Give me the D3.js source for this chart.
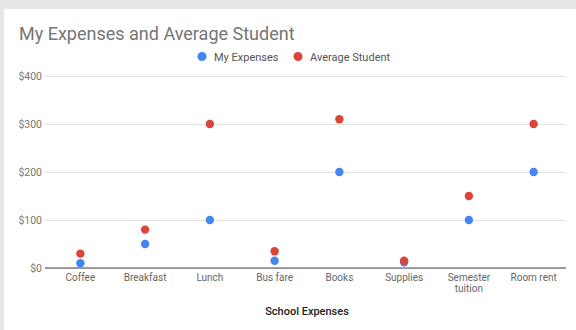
<!DOCTYPE html>
<html>
<head>
<meta charset="utf-8">
<script src="https://cdn.jsdelivr.net/npm/d3@7"></script>
<style>
  html, body { margin: 0; padding: 0; background: #e6e7e9; }
  svg { display: block; font-family: Roboto, "Noto Sans", Arial, sans-serif; }
</style>
</head>
<body>
<svg id="chart" width="576" height="330"></svg>
<script>
// School expense categories and the two series compared
const categories = ["Coffee", "Breakfast", "Lunch", "Bus fare", "Books", "Supplies", "Semester tuition", "Room rent"];
const myExpenses = [10, 50, 100, 15, 200, 12, 100, 200];
const averageStudent = [30, 80, 300, 35, 310, 15, 150, 300];
const yTicks = [0, 100, 200, 300, 400];
const seriesNames = ["My Expenses", "Average Student"];
const seriesColors = ["#4285f4", "#db4437"];

const svg = d3.select("#chart");
const W = 576, H = 330;

// card background
svg.append("rect").attr("x", 4).attr("y", 9).attr("width", W - 4).attr("height", H - 9).attr("fill", "#ffffff");

const x = d3.scaleBand().domain(categories).range([48, 566]);
const y = d3.scaleLinear().domain([0, 400]).range([268, 76]);

// title
svg.append("text").attr("x", 19).attr("y", 40)
  .attr("font-size", 18).attr("fill", "#757575").text("My Expenses and Average Student");

// legend
const legend = svg.append("g");
const legendItems = [{ cx: 202, tx: 214 }, { cx: 298, tx: 310 }];
seriesNames.forEach((name, i) => {
  legend.append("circle").attr("cx", legendItems[i].cx).attr("cy", 56.5).attr("r", 4.5).attr("fill", seriesColors[i]);
  legend.append("text").attr("x", legendItems[i].tx).attr("y", 60.5)
    .attr("font-size", 11).attr("fill", "#555").text(name);
});

// gridlines and y labels
const yAxis = d3.axisLeft(y).tickValues(yTicks).tickSize(-(566 - 45)).tickFormat(d => "$" + d);
const gy = svg.append("g").attr("transform", "translate(45,0)").call(yAxis);
gy.select(".domain").remove();
gy.selectAll(".tick line").attr("stroke", "#e0e0e0").attr("stroke-width", 1);
gy.selectAll(".tick text").attr("x", -3).attr("font-size", 10.5).attr("fill", "#757575")
  .attr("font-family", "Roboto, sans-serif");

// baseline
svg.append("line").attr("x1", 45).attr("x2", 566).attr("y1", y(0)).attr("y2", y(0))
  .attr("stroke", "#444").attr("stroke-width", 1);

// x axis labels
const xAxis = d3.axisBottom(x).tickSize(0).tickPadding(6);
const gx = svg.append("g").attr("transform", `translate(0,${y(0)})`).call(xAxis);
gx.select(".domain").remove();
gx.selectAll(".tick text").attr("font-size", 10).attr("fill", "#666")
  .attr("font-family", "Roboto, sans-serif")
  .each(function (d) {
    const t = d3.select(this);
    const words = d.split(" ");
    if (d === "Semester tuition") {
      t.text(null);
      words.forEach((w, i) => {
        t.append("tspan").attr("x", 0).attr("dy", i === 0 ? "0.71em" : "1.1em").text(w);
      });
    }
  });

// x axis title
svg.append("text").attr("x", 307).attr("y", 315).attr("text-anchor", "middle")
  .attr("font-size", 11).attr("font-weight", 500).attr("fill", "#222").text("School Expenses");

// points
[myExpenses, averageStudent].forEach((vals, s) => {
  svg.append("g").selectAll("circle").data(vals).join("circle")
    .attr("cx", (d, i) => x(categories[i]) + x.bandwidth() / 2)
    .attr("cy", d => y(d))
    .attr("r", 4.2)
    .attr("fill", seriesColors[s]);
});
</script>
</body>
</html>
